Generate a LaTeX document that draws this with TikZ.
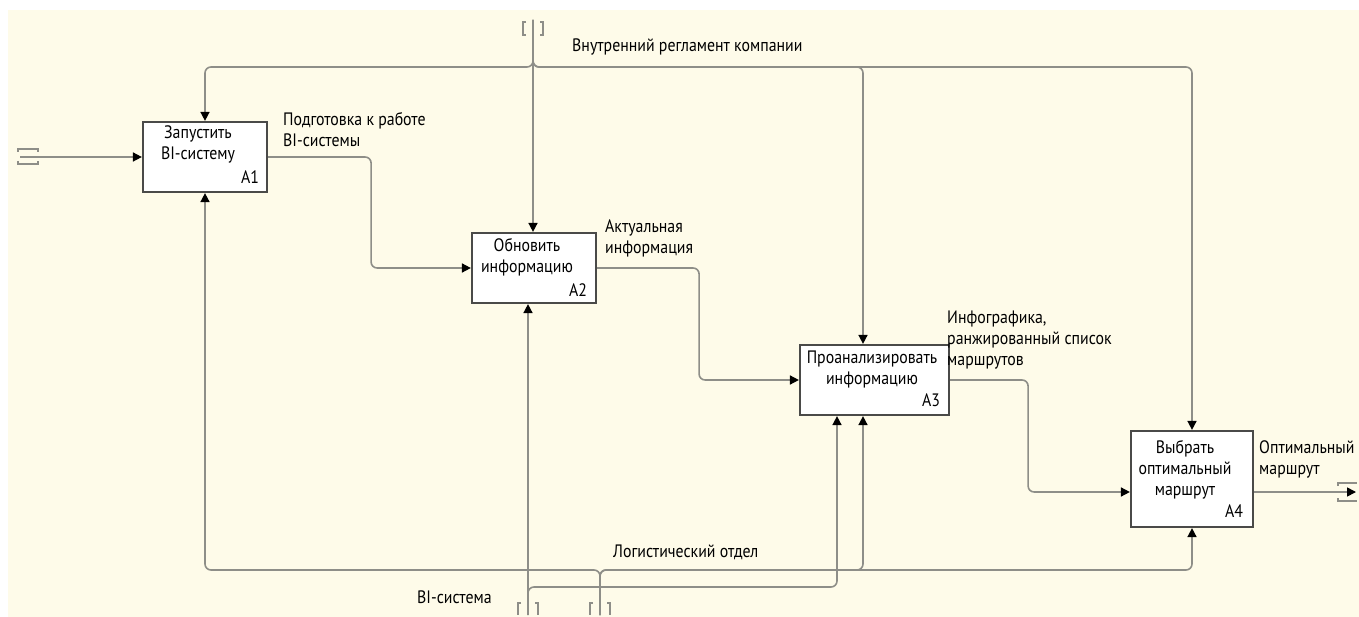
\documentclass[tikz,border=0pt]{standalone}
\usepackage{fontspec}
\setmainfont{PT Sans}[FakeStretch=0.88]
\usetikzlibrary{arrows.meta}
\definecolor{cream}{HTML}{FEFBE9}
\definecolor{wire}{HTML}{8E8E88}
\definecolor{boxline}{HTML}{4A4A48}
\tikzset{
  fn/.style={draw=boxline, line width=2.2pt, fill=white, inner sep=0pt},
  conn/.style={draw=wire, line width=1.6pt, rounded corners=6pt},
  arr/.style={conn, -{Triangle[length=9pt,width=9pt,color=black]}},
  tun/.style={draw=wire, line width=1.4pt},
  txt/.style={inner sep=0pt, align=left, font=\fontsize{18}{21}\selectfont, text=black},
  ctxt/.style={inner sep=0pt, align=center, font=\fontsize{18}{21}\selectfont, text=black},
}
\begin{document}
\begin{tikzpicture}[x=1pt,y=-1pt]
\fill[white] (0,0) rectangle (1359,617);
\fill[cream] (8,10) rectangle (1359,617);
\useasboundingbox (0,0) rectangle (1359,617);

% function boxes
\node[fn, minimum width=124pt, minimum height=70pt] (A1) at (205,157) {};
\node[fn, minimum width=124pt, minimum height=70pt] (A2) at (534,268) {};
\node[fn, minimum width=149pt, minimum height=70pt] (A3) at (874.5,380) {};
\node[fn, minimum width=122pt, minimum height=96pt] (A4) at (1192,479) {};

\node[ctxt] (t1) at (198,144) {Запустить\\BI-систему};
\node[ctxt] (t2) at (527,257.5) {Обновить\\информацию};
\node[ctxt] (t3) at (872,369.5) {Проанализировать\\информацию};
\node[ctxt] (t4) at (1185,469.5) {Выбрать\\оптимальный\\маршрут};
\node[txt] (n1) at (250,177) {A1};
\node[txt] (n2) at (578,290) {A2};
\node[txt] (n3) at (931,400) {A3};
\node[txt] (n4) at (1234,511) {A4};

% boundary coordinates
\coordinate (T) at (533,20);
\coordinate (cj) at (533,67);
\coordinate (I) at (20,157);
\coordinate (O) at (1356,492);
\coordinate (L) at (600,615);
\coordinate (lj) at (600,570);
\coordinate (B) at (528,615);
\coordinate (bj) at (528,587);

% tunnels
\draw[tun] (526,22)--(523,22)--(523,35)--(526,35) (540,22)--(543,22)--(543,35)--(540,35);
\draw[tun] (18,152)--(18,149)--(38,149)--(38,152) (18,161)--(18,164)--(38,164)--(38,161);
\draw[tun] (1338,486)--(1338,483)--(1357,483) (1338,498)--(1338,501)--(1357,501);
\draw[tun] (521,603)--(518,603)--(518,615) (535,603)--(538,603)--(538,615);
\draw[tun] (593,603)--(590,603)--(590,615) (607,603)--(610,603)--(610,615);

% controls
\draw[arr] (T) -- (cj) -| (A1.north);
\draw[arr] (T) -- ([xshift=-1pt]A2.north);
\draw[arr] (T) -- (cj) -| ([xshift=-11.5pt]A3.north);
\draw[arr] (T) -- (cj) -| (A4.north);

% inputs / outputs
\draw[arr] (I) -- (A1.west);
\draw[arr] (A1.east) -- ++(103,0) |- (A2.west);
\draw[arr] (A2.east) -- ++(102,0) |- (A3.west);
\draw[arr] (A3.east) -- ++(78,0) |- ([yshift=-13pt]A4.west);
\draw[arr] ([yshift=-13pt]A4.east) -- (O);

% mechanisms
\draw[arr] (L) -- (lj) -| (A1.south);
\draw[arr] (L) -- (lj) -| ([xshift=-11.5pt]A3.south);
\draw[arr] (L) -- (lj) -| (A4.south);
\draw[arr] (B) -- ([xshift=-6pt]A2.south);
\draw[arr] (B) -- (bj) -| ([xshift=-37.5pt]A3.south);

% labels
\node[txt, anchor=west] (l1) at (572,47) {Внутренний регламент компании};
\node[txt, anchor=west] (l2) at (283,130) {Подготовка к работе\\BI-системы};
\node[txt, anchor=west] (l3) at (605,238.5) {Актуальная\\информация};
\node[txt, anchor=west] (l4) at (947,340) {Инфографика,\\ранжированный список\\маршрутов};
\node[txt, anchor=west] (l5) at (1259,459) {Оптимальный\\маршрут};
\node[txt, anchor=west] (l6) at (613,552) {Логистический отдел};
\node[txt, anchor=west] (l7) at (417,597) {BI-система};
\end{tikzpicture}
\end{document}
